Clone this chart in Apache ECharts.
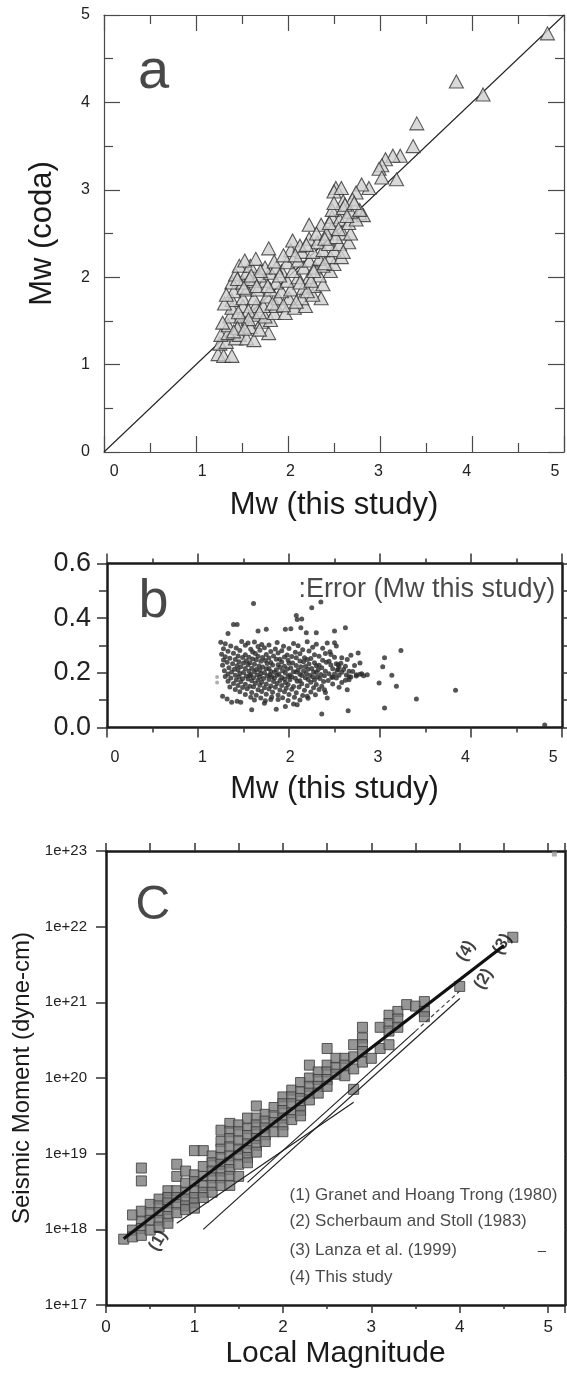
<!DOCTYPE html>
<html>
<head>
<meta charset="utf-8">
<script src="https://cdn.jsdelivr.net/npm/echarts/dist/echarts.min.js"></script>
<style>
html, body { margin: 0; padding: 0; background: #fff; }
#chart { width: 567px; height: 1373px; }
</style>
</head>
<body>
<div id="chart"></div>
<script>
// ---------- (a) coda magnitude vs. Mw of this study ----------
const codaPoints = [
  [4.82,4.79],[3.83,4.24],[4.12,4.09],[3.40,3.76],[3.36,3.50],[3.22,3.39],[3.14,3.39],[3.06,3.35],
  [3.02,3.28],[2.99,3.24],[3.02,3.14],[3.18,3.12],[2.88,3.02],[2.80,3.06],[2.74,2.97],[2.52,3.02],
  [2.50,2.98],[2.58,3.02],[2.60,2.87],[2.70,2.89],[2.78,2.73],[2.82,2.71],[2.36,1.76],
  [1.24,1.12],[1.30,1.10],[1.39,1.10],[1.26,1.24],[1.33,1.26],[1.43,1.30],
  [1.27,1.34],[1.35,1.36],[1.47,1.34],[1.55,1.30],[1.63,1.28],[1.79,1.36],
  [1.35,1.45],[1.47,1.45],[1.59,1.43],[1.71,1.49],[1.81,1.51],
  [1.37,1.55],[1.49,1.55],[1.63,1.57],[1.75,1.55],[1.85,1.59],
  [1.39,1.65],[1.51,1.67],[1.65,1.67],[1.73,1.67],[1.87,1.67],[1.97,1.59],[2.07,1.65],[2.19,1.67],
  [1.39,1.74],[1.51,1.76],[1.63,1.76],[1.77,1.78],[1.89,1.76],[2.01,1.76],[2.15,1.76],[2.27,1.80],
  [1.41,1.84],[1.55,1.86],[1.67,1.86],[1.81,1.86],[1.93,1.84],[2.03,1.86],[2.17,1.88],[2.28,1.90],[2.38,1.92],
  [1.39,1.94],[1.51,1.94],[1.63,1.96],[1.75,1.96],[1.87,1.94],[1.99,1.96],[2.11,2.00],[2.23,2.00],[2.34,2.02],[2.46,2.07],
  [1.43,2.03],[1.55,2.05],[1.69,2.02],[1.81,2.05],[1.93,2.07],[2.05,2.07],[2.17,2.11],[2.29,2.11],[2.38,2.13],[2.50,2.15],
  [1.47,2.13],[1.59,2.13],[1.75,2.11],[1.87,2.11],[1.99,2.17],[2.11,2.19],[2.23,2.19],[2.34,2.21],[2.46,2.23],[2.58,2.23],
  [1.53,2.19],[1.65,2.21],[1.79,2.33],[2.03,2.31],[2.15,2.29],[2.27,2.29],[2.38,2.31],[2.50,2.31],
  [2.05,2.42],[2.13,2.36],[2.23,2.44],[2.32,2.40],[2.44,2.38],[2.56,2.38],[2.66,2.40],[2.60,2.29],
  [2.23,2.60],[2.36,2.60],[2.48,2.56],[2.60,2.50],[2.68,2.50],[2.31,2.50],[2.42,2.50],[2.52,2.46],
  [2.48,2.69],[2.56,2.66],[2.66,2.62],[2.74,2.66],[2.48,2.77],[2.60,2.79],[2.68,2.75],[2.78,2.77],
  [2.50,2.85],[2.62,2.83],[2.72,2.85],
  [1.31,1.70],[1.33,1.80],[1.29,1.48],[1.45,1.42],[1.57,1.62],[1.69,1.60],[1.83,1.70],[1.95,1.68],
  [2.09,1.72],[2.21,1.84],[2.13,1.94],[2.25,1.96],[1.58,1.98],[1.70,2.07],[1.85,2.18],[1.95,2.25],
  [2.08,2.25],[2.20,2.37],[2.40,2.44],[2.45,2.62],[2.55,2.55],[2.64,2.70],[2.28,2.07],[2.40,2.16],
  [1.91,2.02],[1.60,2.02],[1.45,1.98],[1.52,1.88],[1.66,1.90],[1.78,1.90],[1.46,1.60],[1.57,1.52],
  [1.69,1.40],[1.41,1.38],[1.53,1.41]
];
const identityLine = [[0, 0], [5, 5]];

// ---------- (b) error of Mw ----------
const errorPoints = [
  [1.61,0.454],[2.35,0.459],[2.25,0.438],[2.08,0.410],[2.09,0.395],[2.14,0.397],[2.13,0.365],[2.02,0.361],
  [1.43,0.377],[1.39,0.377],[1.33,0.344],[1.66,0.353],[1.75,0.359],[1.96,0.359],[2.50,0.353],[2.62,0.365],
  [2.19,0.347],[2.30,0.347],[3.23,0.282],[2.76,0.273],[3.05,0.255],[3.03,0.222],[2.78,0.236],[3.13,0.191],
  [2.86,0.193],[2.99,0.163],[3.18,0.151],[3.83,0.136],[3.40,0.104],[3.05,0.071],[2.65,0.061],[2.36,0.049],
  [1.59,0.065],[1.86,0.067],[2.05,0.086],[2.09,0.083],[1.96,0.077],[4.81,0.009],
  [2.62,0.173],[2.66,0.175],[2.64,0.138],[2.39,0.138],[2.42,0.108],[2.20,0.114],[1.32,0.104],[1.37,0.092],
  [1.43,0.096],[1.47,0.092],[1.27,0.114],[1.73,0.089],[1.80,0.102],[2.50,0.310],[2.52,0.298],[2.46,0.267],
  [2.58,0.255],[2.64,0.249],[2.54,0.230],[2.66,0.206],[2.68,0.185],[2.48,0.185],[2.54,0.212],[2.74,0.193],[2.80,0.197],
  [1.25,0.312],[1.30,0.306],[1.48,0.315],[1.55,0.309],[1.62,0.313],[1.70,0.304],[1.87,0.311],[2.05,0.307],[2.20,0.314],[2.30,0.305],[2.42,0.309],
  [1.36,0.298],[1.52,0.301],[1.66,0.296],[1.78,0.302],[1.94,0.297],[2.10,0.299],[2.26,0.294],
  [1.28,0.288],[1.42,0.291],[1.58,0.286],[1.73,0.292],[1.85,0.287],[2.00,0.289],[2.15,0.284],[2.37,0.290],
  [1.33,0.279],[1.46,0.282],[1.60,0.276],[1.68,0.283],[1.80,0.278],[1.92,0.281],[2.07,0.275],[2.22,0.280],[2.45,0.277],
  [1.26,0.268],[1.39,0.272],[1.52,0.266],[1.63,0.271],[1.75,0.267],[1.88,0.273],[1.98,0.265],[2.12,0.270],[2.28,0.266],[2.40,0.271],[2.68,0.264],
  [1.30,0.259],[1.44,0.262],[1.56,0.257],[1.66,0.261],[1.71,0.256],[1.83,0.262],[1.95,0.258],[2.03,0.260],[2.17,0.255],[2.33,0.261],
  [1.35,0.253],[1.49,0.256],[1.60,0.251],[1.78,0.254],[1.90,0.250],[2.08,0.255],[2.24,0.252],[2.50,0.257],
  [1.28,0.247],[1.41,0.249],[1.53,0.244],[1.64,0.248],[1.74,0.245],[1.86,0.250],[1.99,0.246],[2.12,0.243],[2.20,0.249],[2.37,0.246],[2.44,0.242],
  [1.32,0.239],[1.45,0.241],[1.57,0.237],[1.69,0.242],[1.80,0.238],[1.92,0.240],[2.04,0.236],[2.16,0.241],[2.28,0.237],[2.41,0.239],[2.57,0.235],
  [1.38,0.233],[1.50,0.236],[1.62,0.231],[1.76,0.234],[1.88,0.230],[2.00,0.235],[2.22,0.232],[2.33,0.228],[2.52,0.233],
  [1.27,0.228],[1.43,0.226],[1.55,0.230],[1.67,0.225],[1.82,0.229],[1.95,0.224],[2.08,0.227],[2.18,0.223],[2.30,0.226],[2.46,0.229],[2.62,0.224],[2.72,0.227],
  [1.34,0.219],[1.47,0.222],[1.59,0.217],[1.71,0.221],[1.78,0.216],[1.90,0.220],[2.02,0.218],[2.13,0.222],[2.25,0.216],[2.36,0.219],[2.55,0.221],
  [1.40,0.213],[1.52,0.216],[1.64,0.212],[1.75,0.215],[1.86,0.211],[1.98,0.214],[2.10,0.210],[2.21,0.213],[2.32,0.211],[2.48,0.215],[2.60,0.212],
  [1.29,0.208],[1.44,0.210],[1.56,0.206],[1.68,0.209],[1.80,0.205],[1.93,0.208],[2.05,0.204],[2.16,0.207],[2.27,0.203],[2.40,0.206],[2.53,0.209],[2.70,0.205],
  [1.37,0.203],[1.50,0.201],[1.62,0.204],[1.73,0.200],[1.84,0.202],[1.96,0.199],[2.08,0.203],[2.19,0.198],[2.30,0.201],[2.44,0.197],[2.58,0.202],
  [1.33,0.196],[1.46,0.198],[1.58,0.194],[1.69,0.197],[1.79,0.193],[1.89,0.196],[2.01,0.192],[2.12,0.195],[2.23,0.191],[2.35,0.194],[2.50,0.196],[2.63,0.192],[2.78,0.195],
  [1.41,0.191],[1.53,0.188],[1.65,0.192],[1.76,0.189],[1.87,0.191],[1.99,0.187],[2.14,0.190],[2.26,0.186],[2.39,0.189],[2.55,0.191],[2.74,0.188],
  [1.30,0.187],[1.45,0.185],[1.57,0.189],[1.68,0.184],[1.81,0.186],[1.92,0.183],[2.03,0.186],[2.18,0.182],[2.31,0.185],[2.47,0.183],[2.66,0.186],[2.82,0.189],
  [1.36,0.181],[1.49,0.178],[1.61,0.182],[1.72,0.179],[1.84,0.181],[1.95,0.177],[2.07,0.180],[2.21,0.176],[2.34,0.179],[2.52,0.181],
  [1.42,0.174],[1.55,0.177],[1.66,0.173],[1.78,0.176],[1.90,0.172],[2.01,0.175],[2.12,0.171],[2.28,0.174],[2.43,0.172],
  [1.33,0.169],[1.47,0.167],[1.59,0.171],[1.70,0.166],[1.83,0.168],[1.96,0.165],[2.09,0.169],[2.24,0.166],[2.38,0.168],[2.58,0.165],
  [1.39,0.161],[1.52,0.158],[1.63,0.162],[1.75,0.159],[1.87,0.161],[1.99,0.157],[2.14,0.160],[2.30,0.157],[2.48,0.159],
  [1.44,0.154],[1.57,0.151],[1.68,0.155],[1.80,0.152],[1.92,0.154],[2.05,0.150],[2.20,0.153],[2.36,0.151],
  [1.35,0.148],[1.49,0.146],[1.61,0.149],[1.73,0.145],[1.85,0.147],[1.97,0.144],[2.11,0.148],[2.27,0.145],[2.55,0.147],
  [1.41,0.139],[1.54,0.142],[1.66,0.138],[1.78,0.141],[1.90,0.137],[2.03,0.140],[2.17,0.136],[2.33,0.139],
  [1.46,0.131],[1.59,0.128],[1.70,0.132],[1.82,0.129],[1.95,0.131],[2.08,0.127],[2.24,0.130],[2.40,0.128],
  [1.52,0.121],[1.64,0.118],[1.75,0.122],[1.88,0.119],[2.00,0.121],[2.15,0.117],[2.29,0.120],
  [1.58,0.111],[1.69,0.108],[1.81,0.112],[1.93,0.109],[2.06,0.111],[2.21,0.107],
  [1.62,0.101],[1.74,0.098],[1.88,0.102],[1.99,0.099],[2.12,0.101]
];
const errorFaintPoints = [[1.21, 0.185], [1.21, 0.165]];

// ---------- (c) seismic moment vs. local magnitude ----------
const mlColumns = [0.2,0.3,0.4,0.5,0.6,0.7,0.8,0.9,1.0,1.1,1.2,1.3,1.4,1.5,1.6,1.7,1.8,1.9,2.0,2.1,
  2.2,2.3,2.4,2.5,2.6,2.7,2.8,2.9,3.0,3.1,3.2,3.3,3.4,3.5,3.6,4.0,4.6];
// log10 of the seismic moment (dyne-cm) of every event in each magnitude column
const logMomentColumns = [
  [17.87],
  [18.19,17.99,17.90],
  [18.81,18.64,18.24,18.10,18.01,17.92],
  [18.33,18.22,18.12,17.99],
  [18.40,18.31,18.22,18.12,18.03],
  [18.51,18.42,18.35,18.26,18.17,18.08],
  [18.86,18.70,18.51,18.42,18.33,18.22],
  [18.77,18.61,18.49,18.40,18.31,18.26],
  [19.04,18.72,18.63,18.51,18.42,18.35,18.28],
  [19.04,18.83,18.70,18.58,18.49,18.42],
  [18.97,18.88,18.77,18.68,18.58,18.49],
  [19.31,19.16,19.06,18.95,18.86,18.77,18.68,18.58],
  [19.40,19.29,19.20,19.09,18.97,18.88,18.79,18.70,18.58],
  [19.38,19.29,19.17,19.06,18.97,18.86,18.70],
  [19.47,19.33,19.24,19.13,19.04,18.95,18.88],
  [19.63,19.47,19.38,19.29,19.20,19.11,19.02],
  [19.52,19.43,19.34,19.25,19.16],
  [19.61,19.50,19.41,19.29],
  [19.75,19.66,19.57,19.47,19.38,19.29],
  [19.84,19.75,19.66,19.54,19.45],
  [19.94,19.82,19.73,19.64,19.57,19.50],
  [20.17,20.00,19.89,19.80,19.71],
  [20.08,19.98,19.89,19.80],
  [20.39,20.17,20.08,19.98,19.89],
  [20.26,20.14,20.05],
  [20.26,20.17,20.03],
  [20.44,20.28,20.12,19.85],
  [20.67,20.53,20.44,20.35,20.21],
  [20.26],
  [20.67,20.39],
  [20.83,20.72,20.62,20.44],
  [20.88,20.78,20.67],
  [20.97],
  [20.95],
  [21.01,20.88,20.81],
  [21.21],
  [21.86]
];
const cornerEvent = [[5.07, 22.96]];

// magnitude-moment relations, endpoints as [ML, log10 M0]
const lineGranet = [[0.8, 18.08], [2.8, 19.68]];
const lineScherbaum = [[1.1, 18.0], [4.0, 21.05]];
const lineLanza = [[1.6, 18.62], [3.5, 20.62]];
const lineLanzaExtended = [[3.5, 20.62], [4.0, 21.15]];
const lineThisStudy = [[0.2, 17.875], [4.5, 21.75]];

const relationNames = [
  '(1) Granet and Hoang Trong (1980)',
  '(2) Scherbaum and Stoll (1983)',
  '(3) Lanza et al. (1999)',
  '(4) This study'
];
const relationRowLog = [18.45, 18.10, 17.72, 17.37];
const relationTextML = 2.07;
const curveTags = [['(1)', 0.59, 17.85], ['(4)', 4.07, 21.68], ['(3)', 4.48, 21.77], ['(2)', 4.27, 21.31]];

// tick labels
const magTickLabels = ['0', '1', '2', '3', '4', '5'];
const errTickLabels = ['0.0', '0.2', '0.4', '0.6'];

// ---------- helpers ----------
const toMoment = (lg) => Math.pow(10, lg);
const momentPairs = (arr) => arr.map(([m, lg]) => [m, toMoment(lg)]);
const intLabel = (v) => {
  const r = Math.round(v);
  return Math.abs(v - r) < 1e-6 && magTickLabels.includes(String(r)) ? String(r) : '';
};

const FONT = 'Liberation Sans, Arial, Helvetica, sans-serif';
const thin = { color: '#4a4a4a', width: 1.2 };
const heavy = { color: '#1a1a1a', width: 2.5 };

function frameAxis(extra) {
  return Object.assign({
    type: 'value',
    splitLine: { show: false },
    axisLabel: { show: false },
    axisLine: { show: true, onZero: false },
  }, extra);
}

const momentPoints = [];
mlColumns.forEach((ml, i) => {
  logMomentColumns[i].forEach((lg) => momentPoints.push([ml, toMoment(lg)]));
});

function textSeries(xi, yi, points, label) {
  return {
    type: 'scatter', xAxisIndex: xi, yAxisIndex: yi, silent: true,
    symbolSize: 1, itemStyle: { color: 'rgba(0,0,0,0)' },
    data: points,
    label: Object.assign({ show: true, fontFamily: FONT, color: '#111' }, label),
    z: 10
  };
}

// ---------- layout ----------
const gridA = { left: 104, top: 15, width: 460, height: 437 };
const gridB = { left: 107, top: 563.5, width: 455, height: 164 };
const gridC = { left: 106, top: 851, width: 459, height: 454 };

const option = {
  animation: false,
  backgroundColor: '#fff',
  textStyle: { fontFamily: FONT },
  grid: [gridA, gridB, gridC].map(g => Object.assign({ containLabel: false, outerBoundsMode: 'none' }, g)),
  xAxis: [
    // (a)
    frameAxis({ gridIndex: 0, position: 'bottom', min: 0, max: 5, interval: 1,
      axisLine: { show: true, onZero: false, lineStyle: thin },
      axisTick: { show: true, inside: true, length: 16, lineStyle: thin },
      minorTick: { show: true, splitNumber: 2, length: 9, lineStyle: thin } }),
    frameAxis({ gridIndex: 0, position: 'top', min: 0, max: 5, interval: 1,
      axisLine: { show: true, onZero: false, lineStyle: thin },
      axisTick: { show: true, inside: true, length: 16, lineStyle: thin },
      minorTick: { show: true, splitNumber: 2, length: 9, lineStyle: thin } }),
    { type: 'value', gridIndex: 0, position: 'bottom', min: -0.115, max: 5.104,
      axisLine: { show: false }, axisTick: { show: false }, splitLine: { show: false },
      axisLabel: { show: true, fontSize: 16, margin: 12, color: '#222', formatter: intLabel },
      name: 'Mw (this study)', nameLocation: 'middle', nameGap: 38,
      nameTextStyle: { fontSize: 31, color: '#1a1a1a', verticalAlign: 'top' } },
    // (b)
    frameAxis({ gridIndex: 1, position: 'bottom', min: 0, max: 5, interval: 1,
      axisLine: { show: true, onZero: false, lineStyle: heavy },
      axisTick: { show: true, inside: false, length: 10, lineStyle: { color: '#333', width: 1.5 } },
      minorTick: { show: true, splitNumber: 2, length: 5, lineStyle: { color: '#333', width: 1.5 } } }),
    frameAxis({ gridIndex: 1, position: 'top', min: 0, max: 5, interval: 1,
      axisLine: { show: true, onZero: false, lineStyle: heavy },
      axisTick: { show: true, inside: false, length: 10, lineStyle: { color: '#333', width: 1.5 } },
      minorTick: { show: true, splitNumber: 2, length: 5, lineStyle: { color: '#333', width: 1.5 } } }),
    { type: 'value', gridIndex: 1, position: 'bottom', min: -0.09, max: 5.1,
      axisLine: { show: false }, axisTick: { show: false }, splitLine: { show: false },
      axisLabel: { show: true, fontSize: 16, margin: 22, color: '#222', formatter: intLabel },
      name: 'Mw (this study)', nameLocation: 'middle', nameGap: 46,
      nameTextStyle: { fontSize: 31, color: '#1a1a1a', verticalAlign: 'top' } },
    // (c)
    frameAxis({ gridIndex: 2, position: 'bottom', min: 0, max: 5.19, interval: 1,
      axisLine: { show: true, onZero: false, lineStyle: heavy },
      axisTick: { show: true, inside: false, length: 8, lineStyle: { color: '#333', width: 1.5 } },
      minorTick: { show: true, splitNumber: 2, length: 4, lineStyle: { color: '#333', width: 1.5 } },
      axisLabel: { show: true, fontSize: 17, margin: 14, color: '#222', formatter: intLabel },
      name: 'Local Magnitude', nameLocation: 'middle', nameGap: 34,
      nameTextStyle: { fontSize: 30, color: '#1a1a1a', verticalAlign: 'top' } }),
    frameAxis({ gridIndex: 2, position: 'top', min: 0, max: 5.19, interval: 0.5,
      axisLine: { show: true, onZero: false, lineStyle: heavy },
      axisTick: { show: true, inside: false, length: 8, lineStyle: { color: '#333', width: 1.5 } } })
  ],
  yAxis: [
    // (a)
    frameAxis({ gridIndex: 0, position: 'left', min: 0, max: 5, interval: 1,
      axisLine: { show: true, onZero: false, lineStyle: thin },
      axisTick: { show: true, inside: true, length: 16, lineStyle: thin },
      minorTick: { show: true, splitNumber: 2, length: 9, lineStyle: thin },
      axisLabel: { show: true, fontSize: 16, margin: 14, color: '#222', formatter: intLabel },
      name: 'Mw (coda)', nameLocation: 'middle', nameGap: 46,
      nameTextStyle: { fontSize: 31, color: '#1a1a1a' } }),
    frameAxis({ gridIndex: 0, position: 'right', min: 0, max: 5, interval: 1,
      axisLine: { show: true, onZero: false, lineStyle: thin },
      axisTick: { show: true, inside: true, length: 16, lineStyle: thin },
      minorTick: { show: true, splitNumber: 2, length: 9, lineStyle: thin } }),
    // (b)
    frameAxis({ gridIndex: 1, position: 'left', min: 0, max: 0.6, interval: 0.2,
      axisLine: { show: true, onZero: false, lineStyle: heavy },
      axisTick: { show: true, inside: false, length: 10, lineStyle: { color: '#333', width: 1.5 } },
      minorTick: { show: true, splitNumber: 2, length: 8, lineStyle: { color: '#333', width: 1.5 } },
      axisLabel: { show: true, fontSize: 27, margin: 16, color: '#222',
        formatter: (v) => { const s = v.toFixed(1); return errTickLabels.includes(s) ? s : ''; } } }),
    frameAxis({ gridIndex: 1, position: 'right', min: 0, max: 0.6, interval: 0.2,
      axisLine: { show: true, onZero: false, lineStyle: heavy },
      axisTick: { show: true, inside: false, length: 6, lineStyle: { color: '#333', width: 1.5 } },
      minorTick: { show: true, splitNumber: 2, length: 6, lineStyle: { color: '#333', width: 1.5 } } }),
    // (c)
    frameAxis({ type: 'log', logBase: 10, gridIndex: 2, position: 'left', min: 1e17, max: 1e23, interval: 1,
      axisLine: { show: true, onZero: false, lineStyle: heavy },
      axisTick: { show: true, inside: false, length: 10, lineStyle: { color: '#333', width: 1.5 } },
      axisLabel: { show: true, fontSize: 15, margin: 19, color: '#222',
        formatter: (v) => '1e+' + Math.round(Math.log10(v)) },
      name: 'Seismic Moment (dyne-cm)', nameLocation: 'middle', nameGap: 69,
      nameTextStyle: { fontSize: 24, color: '#1a1a1a' } }),
    frameAxis({ type: 'log', logBase: 10, gridIndex: 2, position: 'right', min: 1e17, max: 1e23, interval: 1,
      axisLine: { show: true, onZero: false, lineStyle: heavy },
      axisTick: { show: true, inside: false, length: 8, lineStyle: { color: '#333', width: 1.5 } } })
  ],
  series: [
    // (a)
    { type: 'line', xAxisIndex: 0, yAxisIndex: 0, data: identityLine, symbol: 'none', silent: true,
      lineStyle: { color: '#222', width: 1.1 }, z: 1 },
    { type: 'scatter', xAxisIndex: 0, yAxisIndex: 0, data: codaPoints, symbol: 'triangle',
      symbolSize: [14, 13], silent: true,
      itemStyle: { color: '#cfcfcf', borderColor: '#333', borderWidth: 1.1 } },
    textSeries(0, 0, [[0.54, 4.34]], { position: 'inside', formatter: 'a', fontSize: 56, color: '#1a1a1a' }),
    // (b)
    { type: 'scatter', xAxisIndex: 3, yAxisIndex: 2, data: errorPoints, symbol: 'circle', symbolSize: 5,
      silent: true, itemStyle: { color: '#2a2a2a' } },
    { type: 'scatter', xAxisIndex: 3, yAxisIndex: 2, data: errorFaintPoints, symbol: 'circle', symbolSize: 4,
      silent: true, itemStyle: { color: '#9a9a9a' } },
    textSeries(3, 2, [[0.51, 0.457]], { position: 'inside', formatter: 'b', fontSize: 54, color: '#1a1a1a' }),
    textSeries(3, 2, [[2.10, 0.506]], { position: 'right', distance: 0, formatter: ':Error (Mw this study)',
      fontSize: 27, color: '#1a1a1a' }),
    // (c)
    { type: 'line', xAxisIndex: 6, yAxisIndex: 4, data: momentPairs(lineGranet), symbol: 'none', silent: true,
      lineStyle: { color: '#222', width: 1.2 } },
    { type: 'line', xAxisIndex: 6, yAxisIndex: 4, data: momentPairs(lineScherbaum), symbol: 'none', silent: true,
      lineStyle: { color: '#222', width: 1.2 } },
    { type: 'line', xAxisIndex: 6, yAxisIndex: 4, data: momentPairs(lineLanza), symbol: 'none', silent: true,
      lineStyle: { color: '#222', width: 1.2 } },
    { type: 'line', xAxisIndex: 6, yAxisIndex: 4, data: momentPairs(lineLanzaExtended), symbol: 'none', silent: true,
      lineStyle: { color: '#444', width: 1.2, type: [4, 3] } },
    { type: 'scatter', xAxisIndex: 6, yAxisIndex: 4, data: momentPoints, symbol: 'rect', symbolSize: 10,
      silent: true, itemStyle: { color: '#7c7c7c', borderColor: '#3a3a3a', borderWidth: 1 } },
    { type: 'scatter', xAxisIndex: 6, yAxisIndex: 4, data: momentPairs(cornerEvent), symbol: 'rect', symbolSize: 5,
      silent: true, itemStyle: { color: '#9a9a9a' } },
    { type: 'line', xAxisIndex: 6, yAxisIndex: 4, data: momentPairs(lineThisStudy), symbol: 'none', silent: true,
      lineStyle: { color: '#111', width: 3.2 }, z: 5 },
    textSeries(6, 4, [[0.53, toMoment(22.28)]], { position: 'inside', formatter: 'C', fontSize: 48, color: '#1a1a1a' }),
    textSeries(6, 4, relationNames.map((t, i) => ({ value: [relationTextML, toMoment(relationRowLog[i])], name: t })),
      { position: 'right', distance: 0, formatter: (p) => p.name, fontSize: 17, color: '#1a1a1a' }),
    textSeries(6, 4, [[4.93, toMoment(relationRowLog[2])]], { position: 'inside', formatter: '–', fontSize: 15 }),
    textSeries(6, 4, curveTags.map(([t, m, lg]) => ({ value: [m, toMoment(lg)], name: t })),
      { position: 'inside', formatter: (p) => p.name, fontSize: 17, fontWeight: 'bold', rotate: 60, color: '#111' })
  ]
};

const chart = echarts.init(document.getElementById('chart'), null, { renderer: 'canvas' });
chart.setOption(option);
</script>
</body>
</html>
